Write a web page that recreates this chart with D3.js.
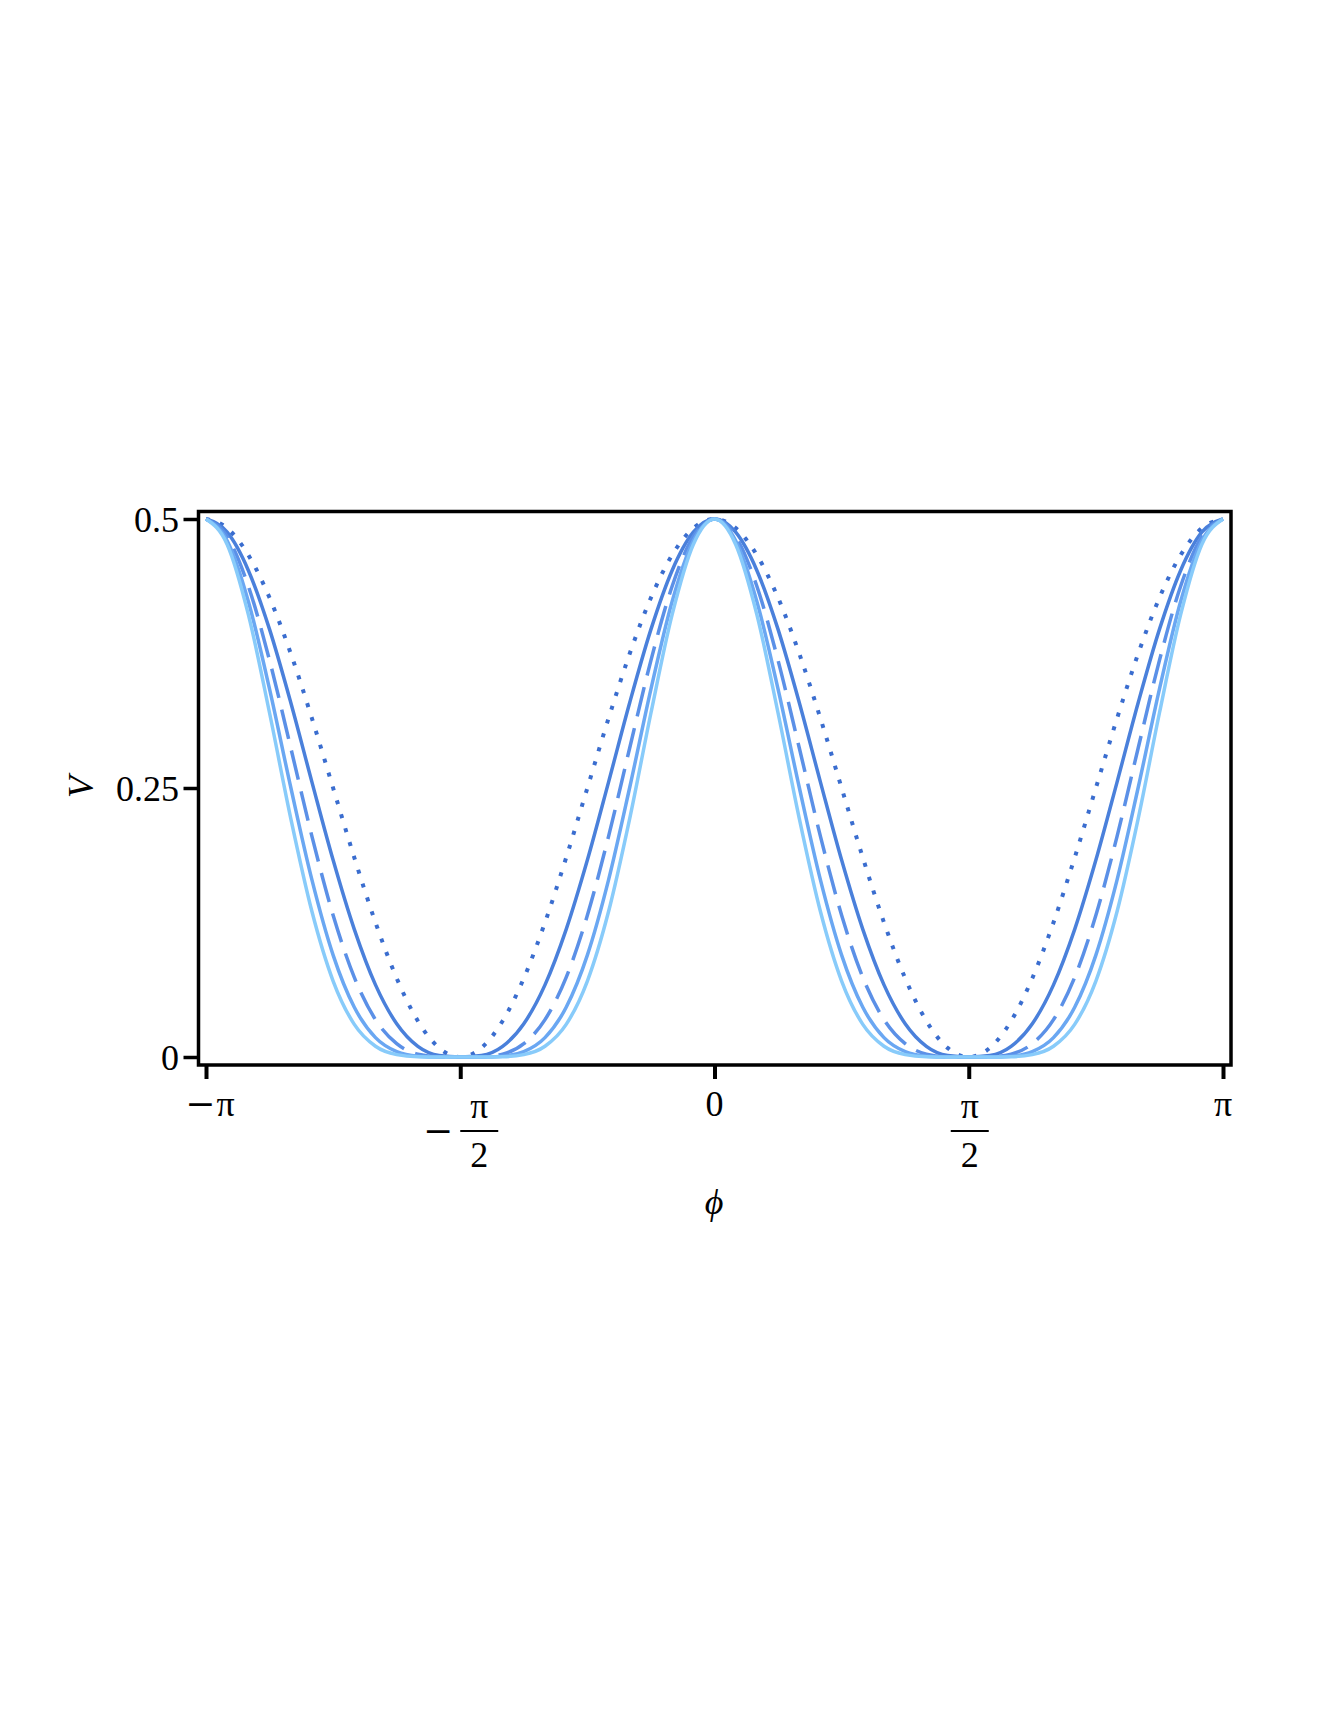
<!DOCTYPE html>
<html>
<head>
<meta charset="utf-8">
<script src="https://cdn.jsdelivr.net/npm/d3@7"></script>
<style>
  body { margin: 0; background: #fff; }
  svg { display: block; }
  text { font-family: "Liberation Serif", "Times New Roman", serif; fill: #000; }
  .minus { font-family: "DejaVu Serif", serif; }
</style>
</head>
<body>
<svg id="chart" width="1329" height="1719"></svg>
<script>
// phi in degrees, -180 .. 180
const phiDeg = [-180, -172.5, -165, -157.5, -150, -142.5, -135, -127.5, -120, -112.5, -105, -97.5, -90,
  -82.5, -75, -67.5, -60, -52.5, -45, -37.5, -30, -22.5, -15, -7.5, 0,
  7.5, 15, 22.5, 30, 37.5, 45, 52.5, 60, 67.5, 75, 82.5, 90,
  97.5, 105, 112.5, 120, 127.5, 135, 142.5, 150, 157.5, 165, 172.5, 180];

// V values, one array per curve
const vDotted = [0.5, 0.4915, 0.4665, 0.4268, 0.375, 0.3147, 0.25, 0.1853, 0.125, 0.0732, 0.0335, 0.0085, 0,
  0.0085, 0.0335, 0.0732, 0.125, 0.1853, 0.25, 0.3147, 0.375, 0.4268, 0.4665, 0.4915, 0.5,
  0.4915, 0.4665, 0.4268, 0.375, 0.3147, 0.25, 0.1853, 0.125, 0.0732, 0.0335, 0.0085, 0,
  0.0085, 0.0335, 0.0732, 0.125, 0.1853, 0.25, 0.3147, 0.375, 0.4268, 0.4665, 0.4915, 0.5];
const vSolidDark = [0.5, 0.4877, 0.4522, 0.3974, 0.3295, 0.2555, 0.1830, 0.1186, 0.0670, 0.0309, 0.0099, 0.0014, 0,
  0.0014, 0.0099, 0.0309, 0.0670, 0.1186, 0.1830, 0.2555, 0.3295, 0.3974, 0.4522, 0.4877, 0.5,
  0.4877, 0.4522, 0.3974, 0.3295, 0.2555, 0.1830, 0.1186, 0.0670, 0.0309, 0.0099, 0.0014, 0,
  0.0014, 0.0099, 0.0309, 0.0670, 0.1186, 0.1830, 0.2555, 0.3295, 0.3974, 0.4522, 0.4877, 0.5];
const vDashed = [0.5, 0.4837, 0.4375, 0.3686, 0.2874, 0.2051, 0.1317, 0.0740, 0.0347, 0.0124, 0.0027, 0.0002, 0,
  0.0002, 0.0027, 0.0124, 0.0347, 0.0740, 0.1317, 0.2051, 0.2874, 0.3686, 0.4375, 0.4837, 0.5,
  0.4837, 0.4375, 0.3686, 0.2874, 0.2051, 0.1317, 0.0740, 0.0347, 0.0124, 0.0027, 0.0002, 0,
  0.0002, 0.0027, 0.0124, 0.0347, 0.0740, 0.1317, 0.2051, 0.2874, 0.3686, 0.4375, 0.4837, 0.5];
const vSolidMid = [0.5, 0.4798, 0.4234, 0.3419, 0.2507, 0.1646, 0.0947, 0.0462, 0.0180, 0.0050, 0.0008, 0, 0,
  0, 0.0008, 0.0050, 0.0180, 0.0462, 0.0947, 0.1646, 0.2507, 0.3419, 0.4234, 0.4798, 0.5,
  0.4798, 0.4234, 0.3419, 0.2507, 0.1646, 0.0947, 0.0462, 0.0180, 0.0050, 0.0008, 0, 0,
  0, 0.0008, 0.0050, 0.0180, 0.0462, 0.0947, 0.1646, 0.2507, 0.3419, 0.4234, 0.4798, 0.5];
const vSolidLight = [0.5, 0.4763, 0.4111, 0.3197, 0.2218, 0.1352, 0.0706, 0.0303, 0.0100, 0.0022, 0.0002, 0, 0,
  0, 0.0002, 0.0022, 0.0100, 0.0303, 0.0706, 0.1352, 0.2218, 0.3197, 0.4111, 0.4763, 0.5,
  0.4763, 0.4111, 0.3197, 0.2218, 0.1352, 0.0706, 0.0303, 0.0100, 0.0022, 0.0002, 0, 0,
  0, 0.0002, 0.0022, 0.0100, 0.0303, 0.0706, 0.1352, 0.2218, 0.3197, 0.4111, 0.4763, 0.5];

// tick labels
const xTickValues = [-180, -90, 0, 90, 180];
const xTickSigns = ["−", "−", "", "", ""];
const xTickNumerators = ["π", "π", "0", "π", "π"];
const xTickDenominators = ["", "2", "", "2", ""];
const yTickValues = [0, 0.25, 0.5];
const yTickLabels = ["0", "0.25", "0.5"];

const seriesList = [
  { values: vDotted, color: "#3a6dcf", dash: "4,10.5", width: 4 },
  { values: vSolidDark, color: "#4a80db", dash: null, width: 3.5 },
  { values: vDashed, color: "#5b90e7", dash: "30,12", width: 3.5 },
  { values: vSolidMid, color: "#6aa7f2", dash: null, width: 3.5 },
  { values: vSolidLight, color: "#88cbfa", dash: null, width: 3.5 }
];

const svg = d3.select("#chart");
svg.append("rect").attr("width", 1329).attr("height", 1719).attr("fill", "#fff");

// frame
const frame = { left: 198.5, right: 1231, top: 511.5, bottom: 1065 };
const fontSize = 36;
const minusSize = 36;

const xScale = d3.scaleLinear().domain([-180, 180]).range([206, 1223]);
const yScale = d3.scaleLinear().domain([0, 0.5]).range([1057, 519]);

// curves
const line = d3.line()
  .x((d, i) => xScale(phiDeg[i]))
  .y(d => yScale(d))
  .curve(d3.curveMonotoneX);

seriesList.forEach(s => {
  svg.append("path")
    .datum(s.values)
    .attr("fill", "none")
    .attr("stroke", s.color)
    .attr("stroke-width", s.width)
    .attr("stroke-dasharray", s.dash)
    .attr("stroke-linejoin", "round")
    .attr("d", line);
});

svg.append("rect")
  .attr("x", frame.left).attr("y", frame.top)
  .attr("width", frame.right - frame.left)
  .attr("height", frame.bottom - frame.top)
  .attr("fill", "none")
  .attr("stroke", "#000")
  .attr("stroke-width", 3.5);

// y axis ticks
const yAxis = d3.axisLeft(yScale).tickValues(yTickValues).tickSize(15).tickFormat("");
const yG = svg.append("g").attr("transform", `translate(${frame.left},0)`).call(yAxis);
yG.select(".domain").remove();
yG.selectAll(".tick line").attr("stroke", "#000").attr("stroke-width", 3.5);

yTickValues.forEach((v, i) => {
  svg.append("text")
    .attr("x", 179)
    .attr("y", yScale(v) + 13)
    .attr("text-anchor", "end")
    .style("font-size", fontSize + "px")
    .text(yTickLabels[i]);
});

// x axis ticks
const xAxis = d3.axisBottom(xScale).tickValues(xTickValues).tickSize(14).tickFormat("");
const xG = svg.append("g").attr("transform", `translate(0,${frame.bottom})`).call(xAxis);
xG.select(".domain").remove();
xG.selectAll(".tick line").attr("stroke", "#000").attr("stroke-width", 4);

xTickValues.forEach((v, i) => {
  const cx = xScale(v);
  if (xTickDenominators[i] === "") {
    const t = svg.append("text")
      .attr("x", cx + (xTickSigns[i] ? 4 : 0))
      .attr("y", 1116)
      .attr("text-anchor", "middle")
      .style("font-size", fontSize + "px");
    if (xTickSigns[i]) {
      t.append("tspan").attr("class", "minus").style("font-size", minusSize + "px").text(xTickSigns[i]);
      t.append("tspan").attr("dx", 1).text(xTickNumerators[i]);
    } else {
      t.text(xTickNumerators[i]);
    }
  } else {
    // fraction label: bar right of the sign
    const barW = 38;
    const barCx = xTickSigns[i] ? cx + barW / 2 : cx + 1;
    if (xTickSigns[i]) {
      svg.append("text")
        .attr("class", "minus")
        .attr("x", cx - 7)
        .attr("y", 1143)
        .attr("text-anchor", "end")
        .style("font-size", minusSize + "px")
        .text(xTickSigns[i]);
    }
    svg.append("text")
      .attr("x", barCx).attr("y", 1118)
      .attr("text-anchor", "middle")
      .style("font-size", fontSize + "px")
      .text(xTickNumerators[i]);
    svg.append("line")
      .attr("x1", barCx - barW / 2).attr("x2", barCx + barW / 2)
      .attr("y1", 1131).attr("y2", 1131)
      .attr("stroke", "#000").attr("stroke-width", 2);
    svg.append("text")
      .attr("x", barCx).attr("y", 1167)
      .attr("text-anchor", "middle")
      .style("font-size", fontSize + "px")
      .text(xTickDenominators[i]);
  }
});

// axis titles
svg.append("text")
  .attr("x", 714).attr("y", 1214)
  .attr("text-anchor", "middle")
  .style("font-size", fontSize + "px")
  .style("font-style", "italic")
  .text("ϕ");

svg.append("text")
  .attr("transform", "translate(93,787) rotate(-90)")
  .attr("text-anchor", "middle")
  .style("font-size", fontSize + "px")
  .style("font-style", "italic")
  .text("V");
</script>
</body>
</html>
